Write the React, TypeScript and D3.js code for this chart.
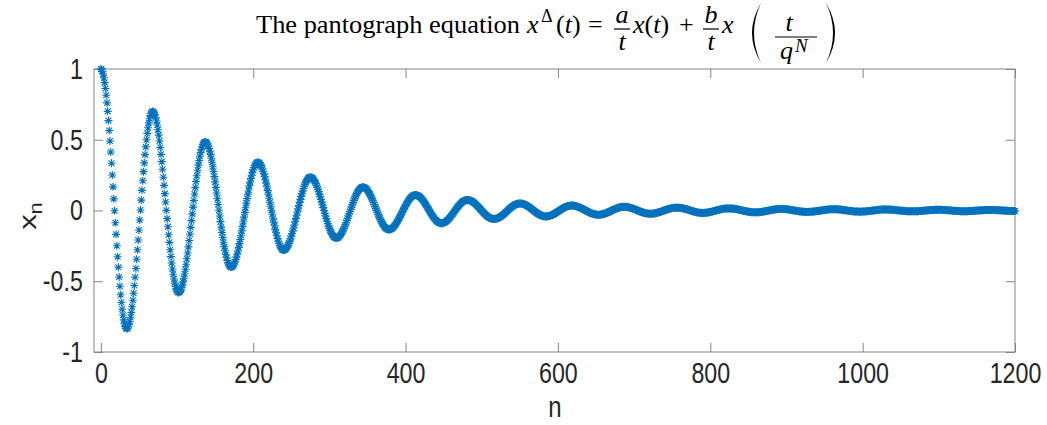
import React, { useEffect, useRef } from 'react';
import * as d3 from 'd3';

// peaks and troughs of x_n (index n, value)
const extremaN = [0, 34, 68, 102, 137, 171, 206, 240, 275, 309, 344, 378, 413, 447, 481, 516, 550, 584, 618, 653, 687, 721, 756, 790, 824, 859, 893, 927, 962, 996, 1030, 1065, 1099, 1133, 1168, 1200];
const extremaX = [1, -0.835, 0.7, -0.58, 0.485, -0.4, 0.34, -0.28, 0.235, -0.195, 0.165, -0.135, 0.11, -0.09, 0.075, -0.06, 0.05, -0.042, 0.035, -0.03, 0.026, -0.023, 0.02, -0.017, 0.015, -0.013, 0.011, -0.01, 0.009, -0.008, 0.007, -0.006, 0.005, -0.005, 0.004, -0.004];

const xTicks = [0, 200, 400, 600, 800, 1000, 1200];
const yTicks = [-1, -0.5, 0, 0.5, 1];

// one sample per integer n, shaped as half waves between the read extrema
const samples = d3.range(0, 1201).map((n) => {
  const i = Math.min(d3.bisectRight(extremaN, n) - 1, extremaN.length - 2);
  const t = (n - extremaN[i]) / (extremaN[i + 1] - extremaN[i]);
  const v = extremaX[i] + (extremaX[i + 1] - extremaX[i]) * (1 - Math.cos(Math.PI * t)) / 2;
  return { n, v };
});

const W = 1047;
const H = 425;
const left = 94, right = 1015, top = 69, bottom = 352;
const axisColor = '#858585';
const textColor = '#262626';
const sx = 0.8; // the figure's text is squeezed horizontally

// matlab '*' marker
const star = 'M-4,0H4M0,-4V4M-2.9,-2.9L2.9,2.9M-2.9,2.9L2.9,-2.9';

function App() {
  const gRef = useRef<SVGGElement>(null);

  useEffect(() => {
    const g = d3.select(gRef.current);
    g.selectAll('*').remove();

    const x = d3.scaleLinear().domain([-9, 1200]).range([left, right]);
    const y = d3.scaleLinear().domain([-1, 1]).range([bottom, top]);

    const styleAxis = (sel: any) => {
      sel.select('.domain').remove();
      sel.selectAll('line').attr('stroke', axisColor);
      sel.selectAll('text')
        .attr('fill', textColor)
        .attr('font-family', "'Liberation Sans', Arial, sans-serif")
        .attr('font-size', 29);
    };

    g.append('g')
      .attr('transform', `translate(0,${bottom})`)
      .call(d3.axisBottom(x).tickValues(xTicks).tickSizeInner(-9).tickSizeOuter(0).tickPadding(10).tickFormat((d: any) => String(d)))
      .call(styleAxis)
      .selectAll('text').attr('transform', `scale(${sx},1)`);

    g.append('g')
      .attr('transform', `translate(0,${top})`)
      .call(d3.axisTop(x).tickValues(xTicks).tickSizeInner(-9).tickSizeOuter(0).tickFormat(() => ''))
      .call(styleAxis);

    g.append('g')
      .attr('transform', `translate(${left},0)`)
      .call(d3.axisLeft(y).tickValues(yTicks).tickSizeInner(-9).tickSizeOuter(0).tickPadding(14).tickFormat((d: any) => String(d)))
      .call(styleAxis)
      .selectAll('text').attr('transform', `scale(${sx},1)`);

    g.append('g')
      .attr('transform', `translate(${right},0)`)
      .call(d3.axisRight(y).tickValues(yTicks).tickSizeInner(-9).tickSizeOuter(0).tickFormat(() => ''))
      .call(styleAxis);

    g.append('rect')
      .attr('x', left).attr('y', top)
      .attr('width', right - left).attr('height', bottom - top)
      .attr('fill', 'none').attr('stroke', axisColor).attr('stroke-width', 1);

    g.append('g')
      .selectAll('path')
      .data(samples)
      .enter()
      .append('path')
      .attr('transform', (d) => `translate(${x(d.n)},${y(d.v)})`)
      .attr('d', star)
      .attr('fill', 'none')
      .attr('stroke', '#0072BD')
      .attr('stroke-width', 1.1);

    // axis labels
    g.append('text')
      .attr('transform', `translate(555,417) scale(${sx},1)`)
      .attr('text-anchor', 'middle')
      .attr('font-family', "'Liberation Sans', Arial, sans-serif")
      .attr('font-size', 30)
      .attr('fill', textColor)
      .text('n');

    const yl = g.append('text')
      .attr('transform', `translate(36,216) scale(${sx},1) rotate(-90)`)
      .attr('text-anchor', 'middle')
      .attr('font-family', "'Liberation Sans', Arial, sans-serif")
      .attr('font-size', 31)
      .attr('fill', textColor);
    yl.append('tspan').text('x');
    yl.append('tspan').attr('dy', 8).attr('font-size', 22).text('n');
  }, []);

  const it = { fontStyle: 'italic' as const };

  return (
    <svg width={W} height={H} style={{ position: 'absolute', left: 0, top: 0, background: '#fff' }}>
      <rect width={W} height={H} fill="#fff" />
      <g ref={gRef} />
      <g fontFamily="'Liberation Serif', 'Times New Roman', serif" fontSize={26} fill="#000">
        <text x={256} y={33} textLength={264} lengthAdjust="spacingAndGlyphs">The pantograph equation</text>
        <text x={527} y={33} style={it}>x</text>
        <text x={541} y={22} fontSize={18}>Δ</text>
        <text x={556} y={33}>(<tspan style={it}>t</tspan>)</text>
        <text x={588} y={33}>=</text>
        <text x={622} y={23} textAnchor="middle" style={it}>a</text>
        <line x1={614} x2={630} y1={29} y2={29} stroke="#000" strokeWidth={1.2} />
        <text x={622} y={50} textAnchor="middle" style={it}>t</text>
        <text x={633} y={33}><tspan style={it}>x</tspan>(<tspan style={it}>t</tspan>)</text>
        <text x={679} y={33}>+</text>
        <text x={711} y={23} textAnchor="middle" style={it}>b</text>
        <line x1={703} x2={719} y1={29} y2={29} stroke="#000" strokeWidth={1.2} />
        <text x={711} y={50} textAnchor="middle" style={it}>t</text>
        <text x={722} y={33} style={it}>x</text>
        <path d="M761,3 Q743,33 761,63 Q747,33 761,3 Z" fill="#000" />
        <text x={789} y={30.5} textAnchor="middle" style={it}>t</text>
        <line x1={775} x2={817} y1={37} y2={37} stroke="#000" strokeWidth={1.2} />
        <text x={780} y={59} style={it}>q</text>
        <text x={795} y={52} fontSize={19} style={it}>N</text>
        <path d="M826,3 Q844,33 826,63 Q840,33 826,3 Z" fill="#000" />
      </g>
    </svg>
  );
}

export default App;
